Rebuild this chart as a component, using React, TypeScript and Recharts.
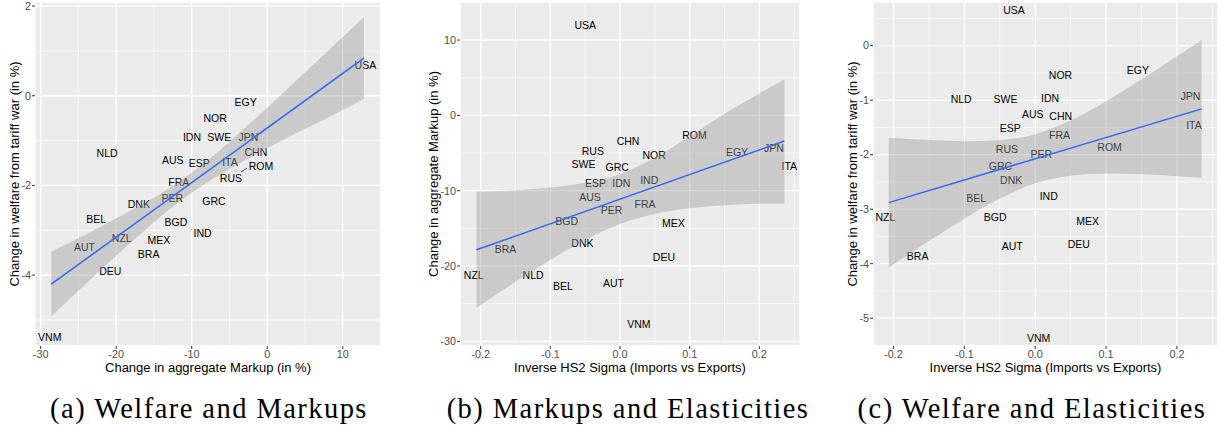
import { ComposedChart, Scatter, Area, Line, XAxis, YAxis, CartesianGrid } from "recharts";

const SANS = "'Liberation Sans', Arial, sans-serif";
const SERIF = "'Liberation Serif', 'Times New Roman', serif";

// ---- (a) Welfare and Markups ----
const aCountries = ["USA", "EGY", "NOR", "IDN", "SWE", "JPN", "CHN", "ITA", "ESP", "ROM", "RUS", "AUS", "NLD", "FRA", "PER", "DNK", "GRC", "BGD", "IND", "BEL", "NZL", "MEX", "AUT", "BRA", "DEU", "VNM"];
const aMarkup = [13.0, -2.86, -6.9, -9.96, -6.35, -2.5, -1.5, -4.93, -9.0, -0.83, -4.8, -12.5, -21.2, -11.7, -12.57, -17.0, -7.05, -12.08, -8.55, -22.66, -19.26, -14.33, -24.2, -15.7, -20.77, -28.8];
const aWelfare = [0.68, -0.15, -0.5, -0.93, -0.93, -0.93, -1.26, -1.48, -1.51, -1.58, -1.85, -1.44, -1.28, -1.93, -2.28, -2.43, -2.35, -2.83, -3.06, -2.76, -3.17, -3.23, -3.38, -3.54, -3.91, -5.39];
const aRepelled = ["ROM"];
const aFitX = [-28.6, 12.8];
const aFitY = [-4.2, 0.84];
const aBandX = [-28.6, -24, -20, -16, -12, -8, -4, 0, 4, 8, 12.8];
const aBandLo = [-4.92, -4.19, -3.57, -2.97, -2.41, -1.94, -1.54, -1.17, -0.82, -0.49, -0.07];
const aBandHi = [-3.48, -3.09, -2.73, -2.37, -1.95, -1.46, -0.88, -0.27, 0.36, 0.99, 1.75];
const markupTicks = [-30, -20, -10, 0, 10];
const markupMinor = [-25, -15, -5, 5, 15];
const welfareTicksA = [-4, -2, 0, 2];
const welfareMinorA = [-5, -3, -1, 1];

// ---- (b) Markups and Elasticities ----
const bCountries = ["USA", "RUS", "SWE", "ESP", "AUS", "CHN", "GRC", "IDN", "NOR", "ROM", "IND", "EGY", "JPN", "ITA", "PER", "FRA", "BGD", "DNK", "MEX", "BRA", "NZL", "NLD", "BEL", "AUT", "DEU", "VNM"];
const bSigma = [-0.05, -0.039, -0.0525, -0.035, -0.043, 0.0115, -0.004, 0.002, 0.049, 0.107, 0.042, 0.168, 0.221, 0.243, -0.012, 0.036, -0.0765, -0.054, 0.0766, -0.1644, -0.21, -0.1248, -0.0818, -0.0095, 0.063, 0.027];
const bMarkup = [11.92, -4.74, -6.51, -9.0, -10.85, -3.5, -6.95, -9.04, -5.27, -2.66, -8.6, -4.92, -4.43, -6.73, -12.62, -11.78, -14.13, -17.05, -14.35, -17.72, -21.3, -21.3, -22.68, -22.24, -18.83, -27.68];
const bFitX = [-0.206, 0.236];
const bFitY = [-17.85, -3.41];
const bBandX = [-0.206, -0.15, -0.1, -0.05, 0, 0.05, 0.1, 0.15, 0.2, 0.236];
const bBandLo = [-25.55, -22.1, -19.19, -16.54, -14.43, -13.08, -12.33, -11.93, -11.75, -11.72];
const bBandHi = [-10.15, -9.94, -9.59, -8.96, -7.81, -5.6, -2.8, 0.2, 2.9, 4.8];
const sigmaTicks = [-0.2, -0.1, 0, 0.1, 0.2];
const sigmaMinor = [-0.15, -0.05, 0.05, 0.15, 0.25];
const markupTicksB = [-30, -20, -10, 0, 10];
const markupMinorB = [-25, -15, -5, 5, 15];

// ---- (c) Welfare and Elasticities ----
const cCountries = ["USA", "NLD", "SWE", "ESP", "RUS", "GRC", "DNK", "AUS", "NOR", "EGY", "IDN", "CHN", "JPN", "ITA", "FRA", "ROM", "PER", "IND", "BEL", "NZL", "BGD", "AUT", "BRA", "MEX", "DEU", "VNM"];
const cSigma = [-0.03, -0.1045, -0.042, -0.0353, -0.04, -0.049, -0.034, -0.0034, 0.0357, 0.145, 0.021, 0.036, 0.219, 0.224, 0.0343, 0.105, 0.0085, 0.019, -0.0833, -0.2114, -0.0565, -0.0325, -0.166, 0.0739, 0.0616, 0.0047];
const cWelfare = [0.64, -0.985, -0.985, -1.51, -1.9, -2.22, -2.47, -1.26, -0.54, -0.46, -0.974, -1.29, -0.925, -1.46, -1.64, -1.86, -1.985, -2.77, -2.81, -3.15, -3.15, -3.69, -3.86, -3.22, -3.64, -5.37];
const cFitX = [-0.2068, 0.235];
const cFitY = [-2.88, -1.16];
const cBandX = [-0.2068, -0.15, -0.1, -0.05, 0, 0.05, 0.1, 0.15, 0.2, 0.235];
const cBandLo = [-4.07, -3.586, -3.174, -2.805, -2.526, -2.385, -2.348, -2.361, -2.396, -2.425];
const cBandHi = [-1.69, -1.732, -1.754, -1.735, -1.624, -1.375, -1.022, -0.619, -0.196, 0.105];
const welfareTicksC = [-5, -4, -3, -2, -1, 0];
const welfareMinorC = [-5.5, -4.5, -3.5, -2.5, -1.5, -0.5, 0.5];

const captions = ["(a) Welfare and Markups", "(b) Markups and Elasticities", "(c) Welfare and Elasticities"];

type LabelPoint = { name: string; x: number; y: number; repel: boolean };

function CountryLabel(props: any) {
  const { cx, cy, payload } = props;
  if (cx == null || cy == null) return <g />;
  return (
    <g>
      {payload.repel && (
        <line x1={cx - 20} y1={cy + 5.5} x2={cx - 14} y2={cy + 1.5} stroke="#000" strokeWidth={0.7} />
      )}
      <text x={cx} y={cy} dy="0.35em" textAnchor="middle" fontSize={10.5} fill="#000" fontFamily={SANS}>
        {payload.name}
      </text>
    </g>
  );
}

type PanelProps = {
  left: number;
  width: number;
  yAxisWidth: number;
  yTitleOffset: number;
  points: LabelPoint[];
  band: { x: number; lo: number; hi: number }[];
  fit: { x: number; fit: number }[];
  xDomain: [number, number];
  yDomain: [number, number];
  xTicks: number[];
  xMinor: number[];
  yTicks: number[];
  yMinor: number[];
  xFormat: (v: number) => string;
  xTitle: string;
  yTitle: string;
};

function Panel(p: PanelProps) {
  const tick = { fill: "#4D4D4D", fontSize: 10.8, fontFamily: SANS };
  return (
    <div style={{ position: "absolute", left: p.left, top: 0 }}>
      <ComposedChart width={p.width} height={380} data={p.band} margin={{ top: 2, right: 0, bottom: 4, left: 0 }}>
        <CartesianGrid fill="#EBEBEB" fillOpacity={1} stroke="#FFFFFF" strokeWidth={1.3} />
        <CartesianGrid horizontalValues={p.yMinor} verticalValues={p.xMinor} stroke="#FFFFFF" strokeWidth={0.6} />
        <XAxis
          dataKey="x"
          type="number"
          domain={p.xDomain}
          allowDataOverflow
          ticks={p.xTicks}
          interval={0}
          tickFormatter={p.xFormat}
          axisLine={false}
          tickLine={{ stroke: "#333333" }}
          tickSize={3}
          tickMargin={1}
          tick={tick}
          height={30}
          label={{ value: p.xTitle, position: "insideBottom", offset: 4, style: { fill: "#000", fontSize: 13, fontFamily: SANS } }}
        />
        <YAxis
          type="number"
          domain={p.yDomain}
          allowDataOverflow
          ticks={p.yTicks}
          interval={0}
          axisLine={false}
          tickLine={{ stroke: "#333333" }}
          tickSize={3}
          tickMargin={1}
          tick={tick}
          width={p.yAxisWidth}
          label={{
            value: p.yTitle,
            angle: -90,
            position: "insideLeft",
            offset: p.yTitleOffset,
            style: { textAnchor: "middle", fill: "#000", fontSize: 13, fontFamily: SANS },
          }}
        />
        <Scatter data={p.points} dataKey="y" shape={CountryLabel} isAnimationActive={false} zIndex={500} />
        <Area
          type="monotone"
          dataKey={(d: any) => [d.lo, d.hi]}
          stroke="none"
          fill="#999999"
          fillOpacity={0.4}
          isAnimationActive={false}
          activeDot={false}
          zIndex={700}
        />
        <Line
          data={p.fit}
          type="linear"
          dataKey="fit"
          stroke="#3366FF"
          strokeWidth={1.5}
          dot={false}
          activeDot={false}
          isAnimationActive={false}
          zIndex={800}
        />
      </ComposedChart>
    </div>
  );
}

function toPoints(names: string[], xs: number[], ys: number[], repelled: string[] = []): LabelPoint[] {
  return names.map((name, i) => ({ name, x: xs[i], y: ys[i], repel: repelled.includes(name) }));
}

function toBand(xs: number[], lo: number[], hi: number[]) {
  return xs.map((x, i) => ({ x, lo: lo[i], hi: hi[i] }));
}

function toFit(xs: number[], ys: number[]) {
  return xs.map((x, i) => ({ x, fit: ys[i] }));
}

const intFormat = (v: number) => String(v);
const decFormat = (v: number) => v.toFixed(1);

export default function App() {
  const captionCenters = [209, 628, 1032];
  return (
    <div style={{ position: "absolute", left: 0, top: 0, width: 1228, height: 425, background: "#fff", overflow: "hidden" }}>
      <Panel
        left={0}
        width={381}
        yAxisWidth={35}
        yTitleOffset={14}
        points={toPoints(aCountries, aMarkup, aWelfare, aRepelled)}
        band={toBand(aBandX, aBandLo, aBandHi)}
        fit={toFit(aFitX, aFitY)}
        xDomain={[-30.75, 15.07]}
        yDomain={[-5.58, 2.09]}
        xTicks={markupTicks}
        xMinor={markupMinor}
        yTicks={welfareTicksA}
        yMinor={welfareMinorA}
        xFormat={intFormat}
        xTitle="Change in aggregate Markup (in %)"
        yTitle="Change in welfare from tariff war (in %)"
      />
      <Panel
        left={415}
        width={385}
        yAxisWidth={45}
        yTitleOffset={18}
        points={toPoints(bCountries, bSigma, bMarkup)}
        band={toBand(bBandX, bBandLo, bBandHi)}
        fit={toFit(bFitX, bFitY)}
        xDomain={[-0.2297, 0.2584]}
        yDomain={[-30.62, 15.05]}
        xTicks={sigmaTicks}
        xMinor={sigmaMinor}
        yTicks={markupTicksB}
        yMinor={markupMinorB}
        xFormat={decFormat}
        xTitle="Inverse HS2 Sigma (Imports vs Exports)"
        yTitle="Change in aggregate Markup (in %)"
      />
      <Panel
        left={835}
        width={383}
        yAxisWidth={38}
        yTitleOffset={17}
        points={toPoints(cCountries, cSigma, cWelfare)}
        band={toBand(cBandX, cBandLo, cBandHi)}
        fit={toFit(cFitX, cFitY)}
        xDomain={[-0.229, 0.258]}
        yDomain={[-5.51, 0.8]}
        xTicks={sigmaTicks}
        xMinor={sigmaMinor}
        yTicks={welfareTicksC}
        yMinor={welfareMinorC}
        xFormat={decFormat}
        xTitle="Inverse HS2 Sigma (Imports vs Exports)"
        yTitle="Change in welfare from tariff war (in %)"
      />
      {captions.map((c, i) => (
        <div
          key={c}
          style={{
            position: "absolute",
            top: 395,
            left: captionCenters[i] - 250,
            width: 500,
            textAlign: "center",
            fontFamily: SERIF,
            fontSize: 28.5,
            lineHeight: 1,
            letterSpacing: 1.45,
            color: "#000",
            whiteSpace: "nowrap",
          }}
        >
          {c}
        </div>
      ))}
    </div>
  );
}
